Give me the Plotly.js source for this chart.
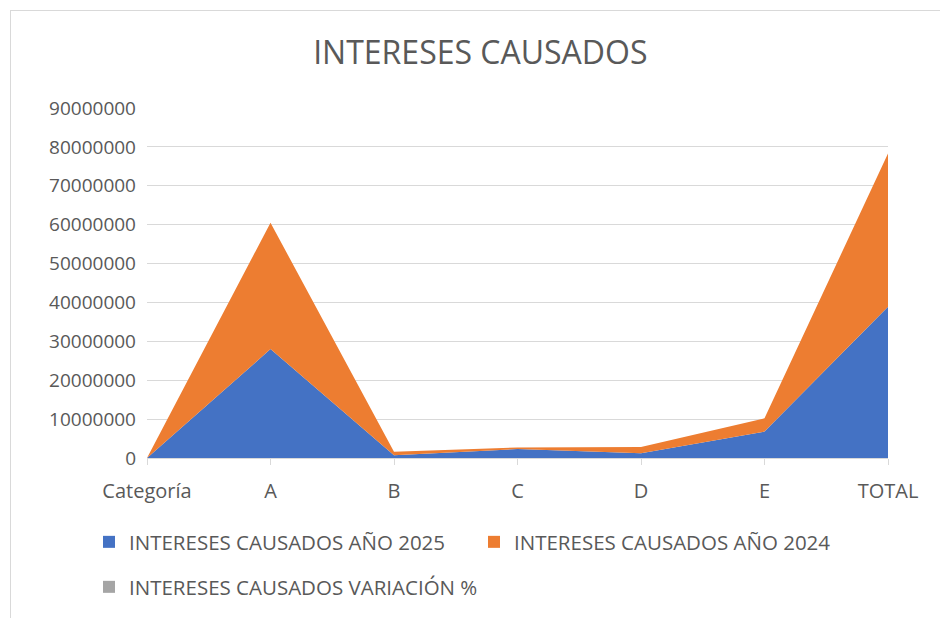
<!DOCTYPE html>
<html lang="es">
<head>
    <meta charset="UTF-8">
    <title>Intereses causados</title>
    <script src="https://cdn.plot.ly/plotly-3.0.1.min.js"></script>
    <style>
        body { margin: 0; background: #fff; }
        #wrap { position: relative; width: 940px; height: 618px; }
        #chart { width: 940px; height: 618px; }
        #frame { position: absolute; left: 10px; top: 10px; width: 940px; height: 620px; border: 1px solid #d9d9d9; pointer-events: none; }
    </style>
</head>
<body>
<div id="wrap">
    <div id="chart"></div>
    <div id="frame"></div>
</div>
<script>
    // categorias del eje x
    const categorias = ['Categoría', 'A', 'B', 'C', 'D', 'E', 'TOTAL'];
    // valores
    const anio2025 = [0, 28000000, 700000, 2300000, 1200000, 6800000, 38900000];
    const anio2024 = [0, 32500000, 900000, 400000, 1600000, 3400000, 39400000];
    const variacion = [0, -0.14, -0.22, 4.75, -0.25, 1.0, -0.01];
    const ticksY = [0, 10000000, 20000000, 30000000, 40000000, 50000000, 60000000, 70000000, 80000000, 90000000];

    const fuente = '"Open Sans", Lato, sans-serif';
    const fuenteTitulo = '"Liberation Sans Narrow", "Open Sans", sans-serif';

    // cada entrada de la leyenda va en su propia leyenda para fijar su sitio
    const series = [
        { name: 'INTERESES CAUSADOS AÑO 2025', y: anio2025, color: '#4472c4', leyenda: 'legend' },
        { name: 'INTERESES CAUSADOS AÑO 2024', y: anio2024, color: '#ed7d31', leyenda: 'legend2' },
        { name: 'INTERESES CAUSADOS VARIACIÓN %', y: variacion, color: '#a5a5a5', leyenda: 'legend3' }
    ];

    // areas apiladas
    const areas = series.map(s => ({
        type: 'scatter',
        mode: 'none',
        x: categorias,
        y: s.y,
        name: s.name,
        stackgroup: 'uno',
        fillcolor: s.color,
        line: { width: 0, color: s.color },
        showlegend: false
    }));

    // entradas de leyenda con cuadrado (como en excel)
    const leyendas = series.map(s => ({
        type: 'bar',
        x: [null],
        y: [null],
        name: s.name,
        marker: { color: s.color },
        legend: s.leyenda,
        showlegend: true
    }));

    const legendaBase = {
        orientation: 'h',
        xref: 'container',
        yref: 'container',
        xanchor: 'left',
        yanchor: 'top',
        itemwidth: 30,
        font: { family: fuente, size: 20.5, color: '#595959' },
        bgcolor: 'rgba(0,0,0,0)'
    };

    const layout = {
        width: 940,
        height: 618,
        paper_bgcolor: '#fff',
        plot_bgcolor: '#fff',
        margin: { l: 147, r: 52, t: 108, b: 160 },
        title: {
            text: 'INTERESES CAUSADOS',
            font: { family: fuenteTitulo, size: 32, color: '#595959' },
            x: 0.511, xanchor: 'center',
            y: 0.915, yanchor: 'middle'
        },
        font: { family: fuente, color: '#595959' },
        showlegend: true,
        xaxis: {
            type: 'category',
            range: [0, 6],
            showgrid: false,
            showline: true,
            linecolor: '#d9d9d9',
            linewidth: 1,
            ticks: 'outside',
            ticklen: 6,
            tickcolor: '#d9d9d9',
            ticklabelstandoff: 9,
            tickfont: { size: 20, color: '#595959' },
            zeroline: false,
            fixedrange: true
        },
        yaxis: {
            range: [0, 90000000],
            tickvals: ticksY,
            ticktext: ticksY.map(v => String(v)),
            showgrid: true,
            gridcolor: '#d9d9d9',
            gridwidth: 1,
            zeroline: false,
            showline: false,
            ticks: '',
            ticklabelstandoff: 10,
            tickfont: { size: 19, color: '#595959' },
            fixedrange: true
        },
        legend: Object.assign({}, legendaBase, { x: 89 / 940, y: 0.1553 }),
        legend2: Object.assign({}, legendaBase, { x: 474 / 940, y: 0.1553 }),
        legend3: Object.assign({}, legendaBase, { x: 89 / 940, y: 0.0825 })
    };

    Plotly.newPlot('chart', areas.concat(leyendas), layout, { displayModeBar: false, staticPlot: true });
</script>
</body>
</html>
